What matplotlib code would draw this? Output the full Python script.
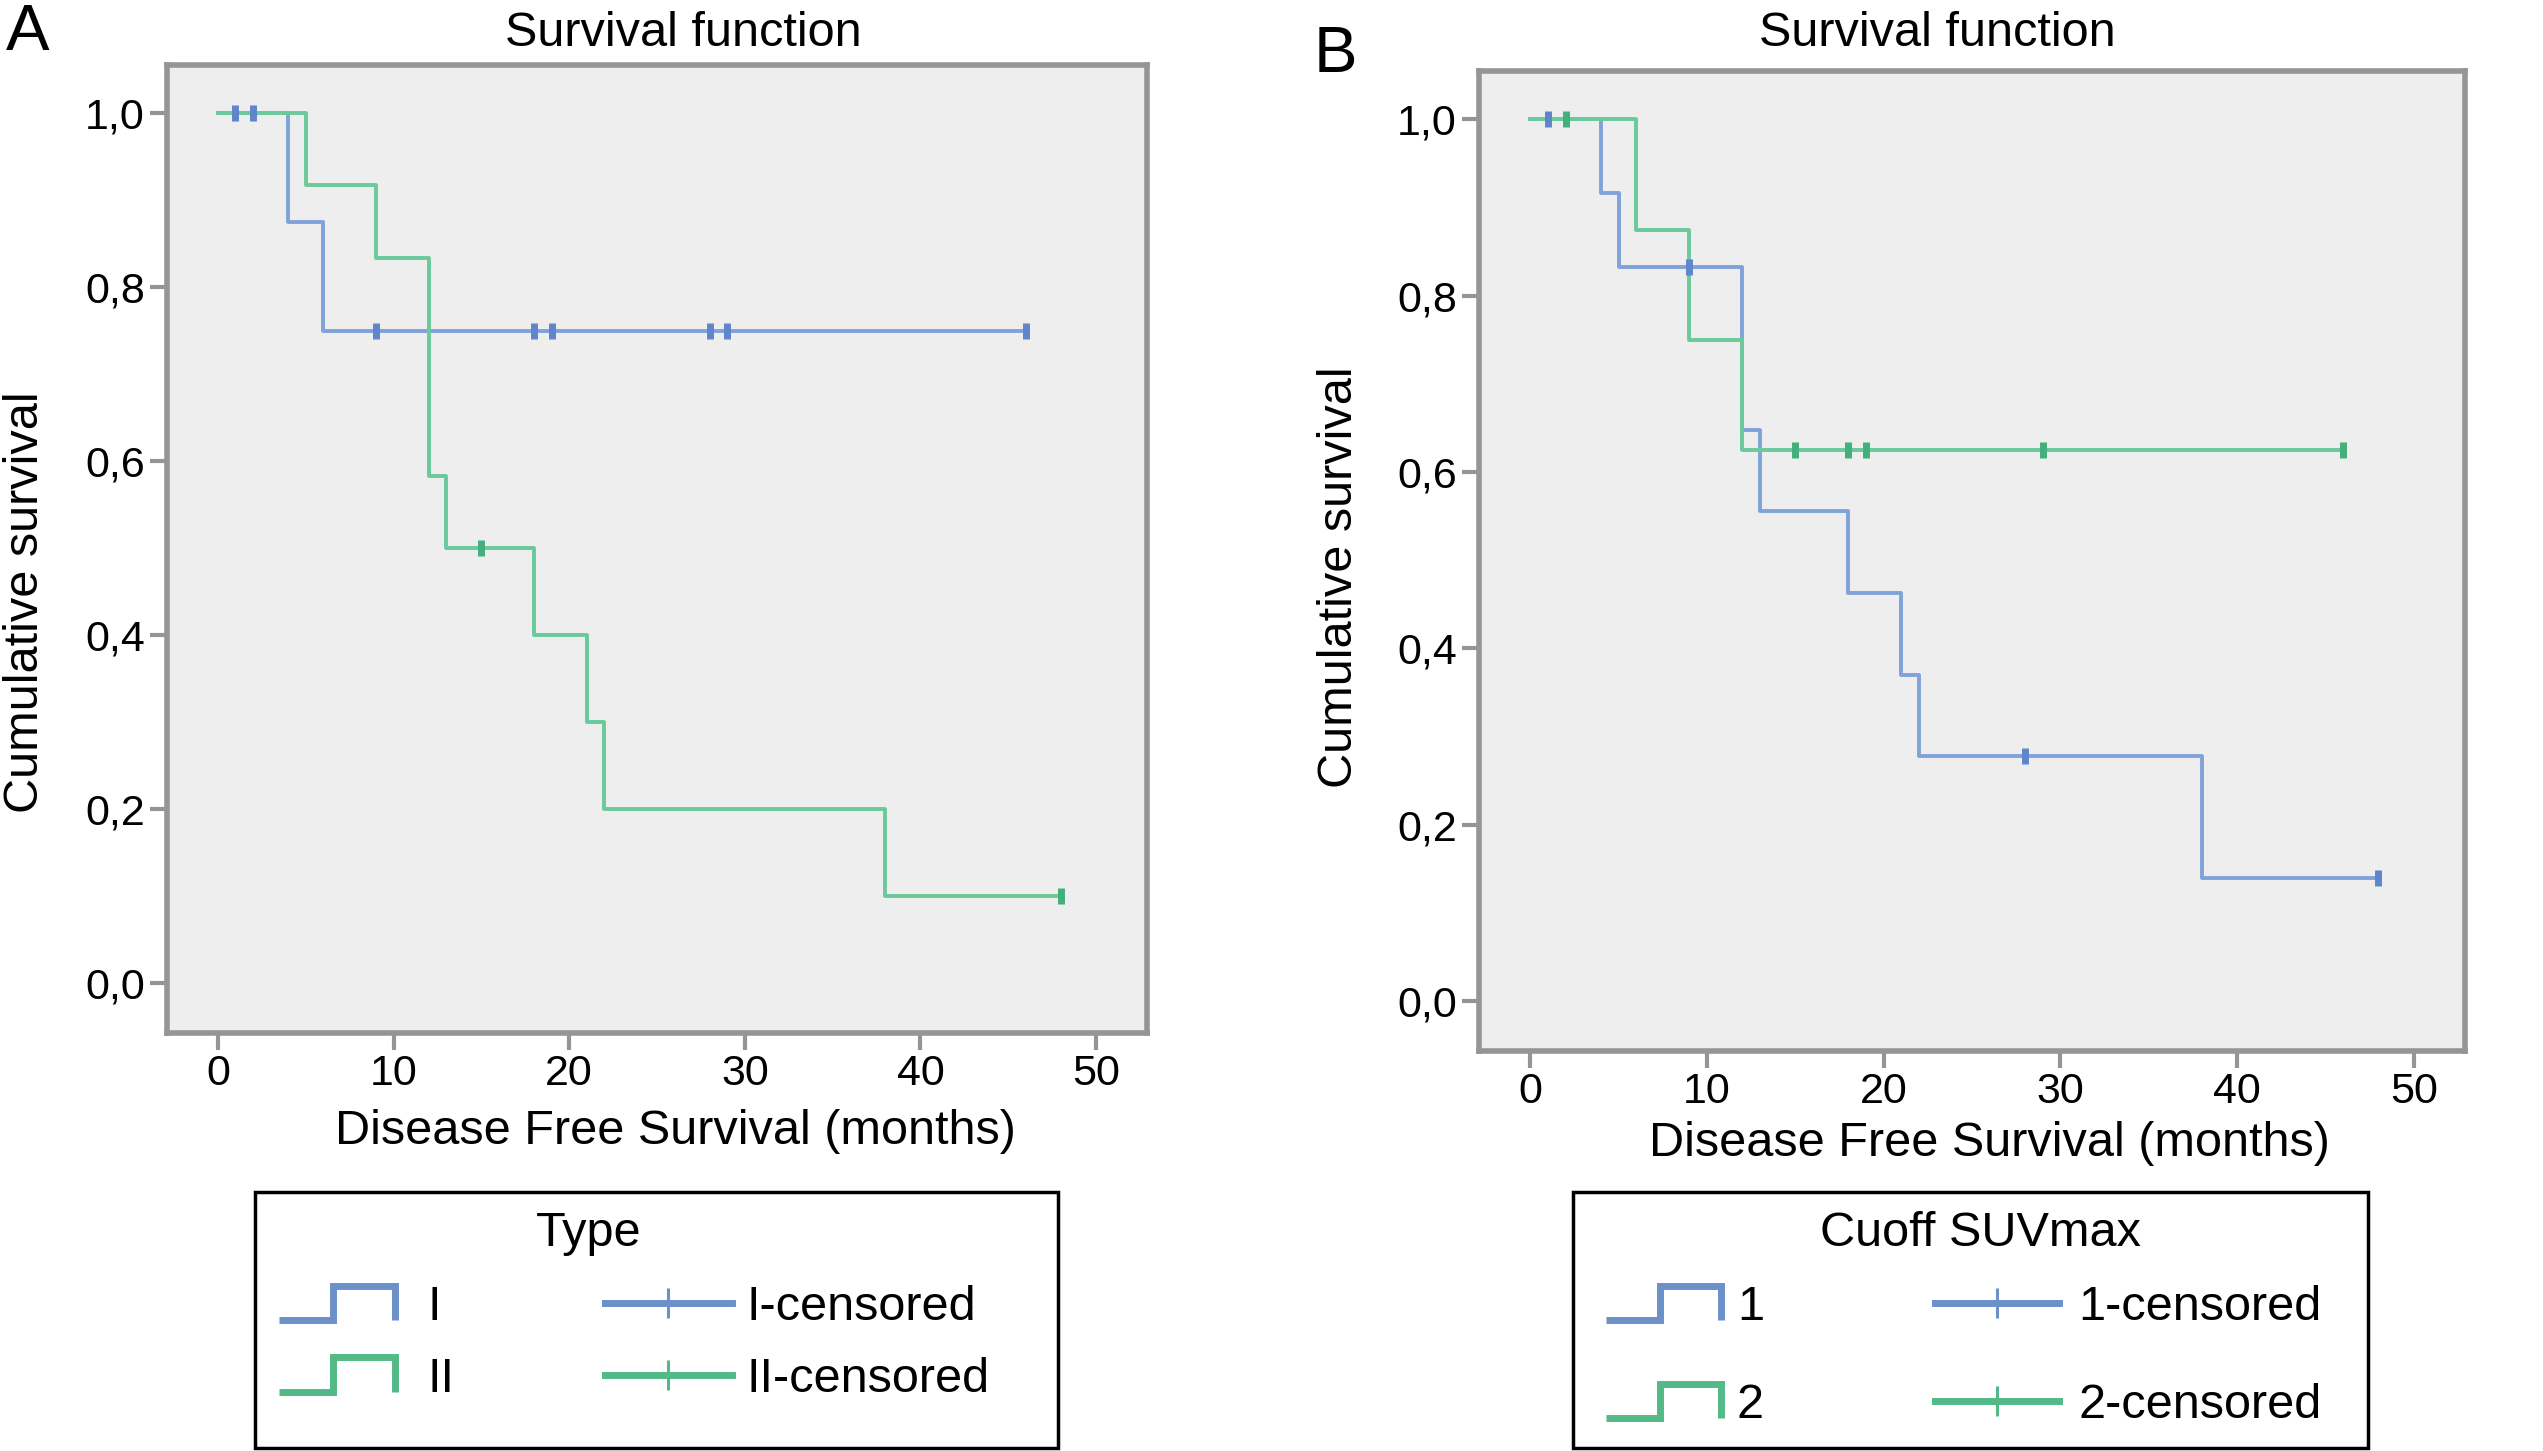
import numpy as np
import matplotlib
matplotlib.use("Agg")
import matplotlib.pyplot as plt
from matplotlib.lines import Line2D
from matplotlib.patches import Rectangle
from matplotlib.legend_handler import HandlerBase
from matplotlib.ticker import FuncFormatter

plt.rcParams['font.family'] = ['Liberation Sans', 'DejaVu Sans']

# ---------------- data ----------------
# panel A : Type
time_a_1 = [0, 4, 6, 46]
surv_a_1 = [1.0, 0.875, 0.75, 0.75]
cens_a_1 = [1, 2, 9, 18, 19, 28, 29, 46]

time_a_2 = [0, 5, 9, 12, 13, 18, 21, 22, 38, 48]
surv_a_2 = [1.0, 0.917, 0.833, 0.583, 0.5, 0.4, 0.3, 0.2, 0.1, 0.1]
cens_a_2 = [15, 48]

# panel B : Cuoff SUVmax
time_b_1 = [0, 4, 5, 12, 13, 18, 21, 22, 38, 48]
surv_b_1 = [1.0, 0.917, 0.833, 0.648, 0.556, 0.463, 0.370, 0.278, 0.139, 0.139]
cens_b_1 = [1, 9, 28, 48]

time_b_2 = [0, 6, 9, 12, 46]
surv_b_2 = [1.0, 0.875, 0.75, 0.625, 0.625]
cens_b_2 = [2, 15, 18, 19, 29, 46]

labels_a = ["I", "II"]
labels_b = ["1", "2"]
x_ticks = [0, 10, 20, 30, 40, 50]
y_ticks = [0.0, 0.2, 0.4, 0.6, 0.8, 1.0]

# ---------------- styles ----------------
W, H = 2543, 1451
FS = 35
TICK_FS = 31
BLUE_LINE, GREEN_LINE = '#80a2d9', '#6bca9b'
BLUE_MARK, GREEN_MARK = '#5f86cb', '#43b07b'
BLUE_LEG, GREEN_LEG = '#6c91c9', '#53b986'
FRAME = '#959595'


def fx(px):
    return px / W


def fy(py):
    return 1 - py / H


class StepHandler(HandlerBase):
    # legend icon shaped like a small survival step
    def create_artists(self, legend, orig_handle, xdescent, ydescent,
                       width, height, fontsize, trans):
        xs = np.array([0, 0.47, 0.47, 1.0, 1.0]) * width - xdescent
        ys = np.array([0, 0, 1, 1, 0]) * height - ydescent
        ln = Line2D(xs, ys, color=orig_handle.get_color(),
                    lw=orig_handle.get_linewidth(), solid_joinstyle='miter',
                    solid_capstyle='butt')
        ln.set_transform(trans)
        return [ln]


def draw_panel(ax, curves):
    ax.set_facecolor('#eeeeee')
    for times, surv, cens, lc, mc in curves:
        ax.plot(times, surv, drawstyle='steps-post', color=lc, lw=2.8, zorder=2)
    for times, surv, cens, lc, mc in curves:
        idx = np.searchsorted(times, cens, side='right') - 1
        ax.plot(cens, np.asarray(surv)[idx], ls='none', marker='|',
                ms=11, mew=5, color=mc, zorder=3)
    ax.set_xlim(-2.9, 52.9)
    ax.set_ylim(-0.057, 1.055)
    ax.set_xticks(x_ticks)
    ax.set_yticks(y_ticks)
    ax.yaxis.set_major_formatter(FuncFormatter(lambda v, p: ("%.1f" % v).replace('.', ',')))
    ax.tick_params(direction='out', length=12, width=3, color=FRAME,
                   labelsize=TICK_FS, pad=4)
    ax.tick_params(axis='x', pad=3)
    for s in ax.spines.values():
        s.set_color(FRAME)
        s.set_linewidth(4)


def legend_column(fig, handles, names, left, top, hlen, hpad, spacing, hmap=None):
    fig.legend(handles, names, loc='upper left', bbox_to_anchor=(fx(left), fy(top)),
               bbox_transform=fig.transFigure, frameon=False, fontsize=FS,
               borderpad=0, borderaxespad=0, handlelength=hlen, handleheight=0.72,
               handletextpad=hpad, labelspacing=spacing, numpoints=1,
               handler_map=hmap)


def add_legend(fig, title, labels, box, title_xy, top, spacing, col1, col2):
    h_steps = [Line2D([], [], color=c, lw=5) for c in (BLUE_LEG, GREEN_LEG)]
    h_cens = [Line2D([], [], color=c, lw=5, marker='|', ms=22, mew=2.2)
              for c in (BLUE_LEG, GREEN_LEG)]
    legend_column(fig, h_steps, labels, col1[0], top, col1[1], col1[2], spacing,
                  {h: StepHandler() for h in h_steps})
    legend_column(fig, h_cens, [l + "-censored" for l in labels], col2[0], top,
                  col2[1], col2[2], spacing)
    fig.text(fx(title_xy[0]), fy(title_xy[1]), title, fontsize=FS, ha='center', va='center')
    x0, y0, x1, y1 = box
    fig.patches.append(Rectangle((fx(x0), fy(y1)), fx(x1) - fx(x0), fy(y0) - fy(y1),
                                 transform=fig.transFigure, fill=False,
                                 ec='black', lw=2.5))


fig = plt.figure(figsize=(W / 100, H / 100), dpi=100)

ax_a = fig.add_axes([fx(167), fy(1033), fx(1147) - fx(167), fy(65) - fy(1033)])
ax_b = fig.add_axes([fx(1479), fy(1051), fx(2465) - fx(1479), fy(71) - fy(1051)])

draw_panel(ax_a, [(time_a_1, surv_a_1, cens_a_1, BLUE_LINE, BLUE_MARK),
                  (time_a_2, surv_a_2, cens_a_2, GREEN_LINE, GREEN_MARK)])
draw_panel(ax_b, [(time_b_1, surv_b_1, cens_b_1, BLUE_LINE, BLUE_MARK),
                  (time_b_2, surv_b_2, cens_b_2, GREEN_LINE, GREEN_MARK)])

for ax, xl, yl in [(ax_a, (675, 1132), (26, 602)), (ax_b, (1989, 1143), (1340, 577))]:
    ax.set_xlabel("Disease Free Survival (months)", fontsize=FS, va='center', ha='center')
    ax.xaxis.set_label_coords(fx(xl[0]), fy(xl[1]), transform=fig.transFigure)
    ax.set_ylabel("Cumulative survival", fontsize=FS, va='center', ha='center')
    ax.yaxis.set_label_coords(fx(yl[0]), fy(yl[1]), transform=fig.transFigure)

fig.text(fx(683), fy(34), "Survival function", fontsize=FS, ha='center', va='center')
fig.text(fx(1937), fy(34), "Survival function", fontsize=FS, ha='center', va='center')
fig.text(fx(28), fy(33), "A", fontsize=47, ha='center', va='center')
fig.text(fx(1335), fy(55), "B", fontsize=47, ha='center', va='center')

add_legend(fig, "Type", labels_a, (255, 1192, 1058, 1448), (589, 1234), 1285, 0.55,
           (279, 2.38, 0.68), (605, 2.61, 0.30))
add_legend(fig, "Cuoff SUVmax", labels_b, (1573, 1192, 2368, 1448), (1981, 1234), 1285, 1.09,
           (1606, 2.36, 0.33), (1935, 2.55, 0.40))

fig.savefig("out.png", dpi=100)
